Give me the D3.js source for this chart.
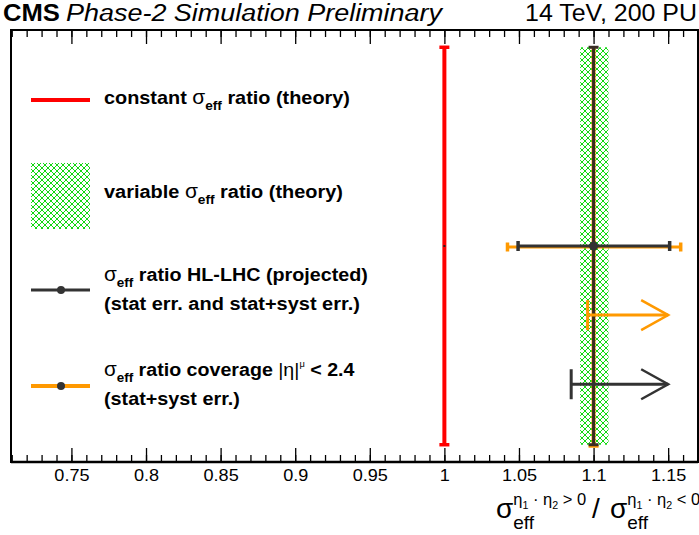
<!DOCTYPE html>
<html><head><meta charset="utf-8">
<script src="https://cdn.jsdelivr.net/npm/d3@7"></script>
<style>
body{margin:0;background:#fff;}
text{font-family:"Liberation Sans",Arial,Helvetica,sans-serif;fill:#000;}
</style>
</head><body>
<svg id="c" width="699" height="535"></svg>
<script>
// ---------------- data ----------------
const xTickValues = [0.75, 0.8, 0.85, 0.9, 0.95, 1.0, 1.05, 1.1, 1.15];
const xTickLabels = ["0.75", "0.8", "0.85", "0.9", "0.95", "1", "1.05", "1.1", "1.15"];
const xMinorTicks = d3.range(71, 118).map(d => d / 100);
const xDomain = [0.7095, 1.170];
const yDomain = [0, 1];
const constantRatio = [1.0];            // red, constant sigma_eff ratio (theory)
const theoryYRange = [0.04, 0.96];      // vertical extent of theory lines
const variableBand = [1.091, 1.110];    // green hatched band (variable ratio)
const projectedCentral = [1.1];         // HL-LHC projected central value
const projectedY = [0.5];
const statErr = [1.0494, 1.151];        // black horizontal error bar
const statSystErr = [1.0423, 1.1584];   // orange horizontal error bar
const limitValues = [1.096, 1.085];     // lower limits: orange, black
const limitYs = [0.34, 0.18];
const limitArrowEnd = [1.15, 1.15];
const limitColors = ["#ff9900", "#333333"];

const RED = "#ff0000", ORANGE = "#ff9900", BLACK = "#333333";

// ---------------- layout ----------------
const svg = d3.select("#c");
const L = 11, R = 698, T = 30, B = 462;
const x = d3.scaleLinear().domain(xDomain).range([L, R]);
const y = d3.scaleLinear().domain(yDomain).range([B, T]);

const defs = svg.append("defs");
const pat = defs.append("pattern").attr("id", "hatch").attr("patternUnits", "userSpaceOnUse")
  .attr("width", 6).attr("height", 6);
pat.append("rect").attr("width", 6).attr("height", 6).attr("fill", "#fff");
pat.append("path").attr("d", "M0,0L6,6M6,0L0,6M-1,5L1,7M5,-1L7,1")
  .attr("stroke", "#11d811").attr("stroke-width", 1).attr("fill", "none");

// horizontally scale a text element to a target width around an anchor x
function fitWidth(sel, target, ax) {
  const n = sel.node();
  const w = n.getBBox().width;
  const k = target / w;
  sel.attr("transform", `translate(${ax},0) scale(${k},1) translate(${-ax},0)`);
}

// ---------------- frame & axes ----------------
svg.append("rect").attr("x", L).attr("y", T).attr("width", R - L).attr("height", B - T)
  .attr("fill", "none").attr("stroke", "#000").attr("stroke-width", 2);

const gMinorB = svg.append("g").attr("transform", `translate(0,${B})`)
  .call(d3.axisBottom(x).tickValues(xMinorTicks).tickSize(-7).tickFormat(""));
const gMinorT = svg.append("g").attr("transform", `translate(0,${T})`)
  .call(d3.axisTop(x).tickValues(xMinorTicks).tickSize(-7).tickFormat(""));
const gMajB = svg.append("g").attr("transform", `translate(0,${B})`)
  .call(d3.axisBottom(x).tickValues(xTickValues).tickSize(-14).tickPadding(8)
    .tickFormat((d, i) => xTickLabels[i]));
const gMajT = svg.append("g").attr("transform", `translate(0,${T})`)
  .call(d3.axisTop(x).tickValues(xTickValues).tickSize(-14).tickFormat(""));
[gMinorB, gMinorT, gMajB, gMajT].forEach(g => {
  g.select(".domain").remove();
  g.selectAll(".tick line").attr("stroke", "#000").attr("stroke-width", 1.3);
});
gMajB.selectAll(".tick text").attr("font-size", 16).attr("font-family", "Liberation Sans, Arial, sans-serif")
  .attr("fill", "#000")
  .each(function () {
    const w = this.getComputedTextLength();
    d3.select(this).attr("textLength", w * 1.13).attr("lengthAdjust", "spacingAndGlyphs");
  });
svg.append("line").attr("x1", L).attr("x2", R).attr("y1", B).attr("y2", B)
  .attr("stroke", "#000").attr("stroke-width", 2.5);

// ---------------- marks ----------------
// variable theory band
svg.append("rect").attr("x", x(variableBand[0])).attr("y", y(theoryYRange[1]))
  .attr("width", x(variableBand[1]) - x(variableBand[0]))
  .attr("height", y(theoryYRange[0]) - y(theoryYRange[1]))
  .attr("fill", "url(#hatch)");

// constant theory (red)
constantRatio.forEach(v => {
  svg.append("line").attr("x1", x(v)).attr("x2", x(v)).attr("y1", y(theoryYRange[0])).attr("y2", y(theoryYRange[1]))
    .attr("stroke", RED).attr("stroke-width", 4);
  theoryYRange.forEach(yy => svg.append("line").attr("x1", x(v) - 5).attr("x2", x(v) + 5)
    .attr("y1", y(yy)).attr("y2", y(yy)).attr("stroke", RED).attr("stroke-width", 3.5));
  svg.append("rect").attr("x", x(v) - 1).attr("y", y(projectedY[0]) - 1).attr("width", 2).attr("height", 2).attr("fill", "#222");
});

// projected central value vertical line (orange under black)
projectedCentral.forEach(v => {
  svg.append("line").attr("x1", x(v)).attr("x2", x(v)).attr("y1", y(theoryYRange[0])).attr("y2", y(theoryYRange[1]))
    .attr("stroke", ORANGE).attr("stroke-width", 4);
  svg.append("line").attr("x1", x(v) - 5).attr("x2", x(v) + 5)
    .attr("y1", y(theoryYRange[0]) + 1.5).attr("y2", y(theoryYRange[0]) + 1.5).attr("stroke", ORANGE).attr("stroke-width", 3);
  svg.append("line").attr("x1", x(v)).attr("x2", x(v)).attr("y1", y(theoryYRange[0])).attr("y2", y(theoryYRange[1]))
    .attr("stroke", "#3a2c22").attr("stroke-width", 3);
  theoryYRange.forEach(yy => svg.append("line").attr("x1", x(v) - 5).attr("x2", x(v) + 5)
    .attr("y1", y(yy)).attr("y2", y(yy)).attr("stroke", "#3a2e26").attr("stroke-width", 3));
});

// horizontal error bars
function hbar(range, yy, color, w, capH, off) {
  const yp = y(yy) + off;
  svg.append("line").attr("x1", x(range[0])).attr("x2", x(range[1])).attr("y1", yp).attr("y2", yp)
    .attr("stroke", color).attr("stroke-width", w);
  range.forEach(v => svg.append("line").attr("x1", x(v)).attr("x2", x(v))
    .attr("y1", yp - capH / 2).attr("y2", yp + capH / 2).attr("stroke", color).attr("stroke-width", 3.5));
}
hbar(statSystErr, projectedY[0], ORANGE, 3, 9, 1);
hbar(statErr, projectedY[0], BLACK, 3, 10, 0);
svg.append("circle").attr("cx", x(projectedCentral[0])).attr("cy", y(projectedY[0])).attr("r", 4.5).attr("fill", BLACK);

// lower-limit arrows
limitValues.forEach((v, i) => {
  const yp = y(limitYs[i]), c = limitColors[i], xe = x(limitArrowEnd[i]);
  svg.append("line").attr("x1", x(v)).attr("x2", x(v)).attr("y1", yp - 15).attr("y2", yp + 15)
    .attr("stroke", c).attr("stroke-width", 3);
  svg.append("line").attr("x1", x(v)).attr("x2", xe).attr("y1", yp).attr("y2", yp)
    .attr("stroke", c).attr("stroke-width", 3);
  svg.append("path").attr("d", `M${xe - 27},${yp - 15}L${xe},${yp}L${xe - 27},${yp + 15}`)
    .attr("stroke", c).attr("stroke-width", 2.5).attr("fill", "none");
});

// ---------------- legend ----------------
const lg = svg.append("g");
lg.append("line").attr("x1", 31).attr("x2", 90).attr("y1", 100).attr("y2", 100).attr("stroke", RED).attr("stroke-width", 4);
lg.append("rect").attr("x", 31).attr("y", 163).attr("width", 59).attr("height", 66).attr("fill", "url(#hatch)");
lg.append("line").attr("x1", 31).attr("x2", 90).attr("y1", 290).attr("y2", 290).attr("stroke", BLACK).attr("stroke-width", 3);
lg.append("circle").attr("cx", 61).attr("cy", 290).attr("r", 4).attr("fill", BLACK);
lg.append("line").attr("x1", 31).attr("x2", 90).attr("y1", 386).attr("y2", 386).attr("stroke", ORANGE).attr("stroke-width", 4);
lg.append("circle").attr("cx", 61).attr("cy", 386).attr("r", 4).attr("fill", BLACK);

const FS = 19;
function legText(yb, parts, target) {
  const t = lg.append("text").attr("x", 104).attr("y", yb).attr("font-size", FS).attr("font-weight", "bold");
  parts.forEach(p => {
    const s = t.append("tspan").text(p.t);
    if (p.n) s.attr("font-weight", "normal");
    if (p.fs) s.attr("font-size", p.fs);
    if (p.dy) s.attr("dy", p.dy);
  });
  fitWidth(t, target, 104);
  return t;
}
const sig = [{ t: "σ", n: 1, fs: 20 }, { t: "eff", fs: 13, dy: 6 }];
legText(104, [{ t: "constant " }, ...sig, { t: " ratio (theory)", dy: -6 }], 246);
legText(198, [{ t: "variable " }, ...sig, { t: " ratio (theory)", dy: -6 }], 239);
legText(281, [...sig, { t: " ratio HL-LHC (projected)", dy: -6 }], 264);
legText(310, [{ t: "(stat err. and stat+syst err.)" }], 256);
legText(376, [...sig, { t: " ratio coverage ", dy: -6 }, { t: "|η|", n: 1 }, { t: "μ", n: 1, fs: 9, dy: -9 }, { t: " < 2.4", dy: 9 }], 251);
legText(405, [{ t: "(stat+syst err.)" }], 136);

// ---------------- header ----------------
const h1 = svg.append("text").attr("x", 3).attr("y", 21).attr("font-size", 23).attr("font-weight", "bold").text("CMS");
fitWidth(h1, 57, 3);
const h2 = svg.append("text").attr("x", 66).attr("y", 21).attr("font-size", 23).attr("font-style", "italic").text("Phase-2 Simulation Preliminary");
fitWidth(h2, 378, 66);
const h3 = svg.append("text").attr("x", 697).attr("y", 21).attr("font-size", 23).attr("text-anchor", "end").text("14 TeV, 200 PU");
fitWidth(h3, 172, 697);

// ---------------- axis title ----------------
const tg = svg.append("g");
function measure(str, fs) {
  const t = svg.append("text").attr("font-size", fs).text(str);
  const w = t.node().getComputedTextLength(); t.remove(); return w;
}
function sigmaBlock(x0, sign) {
  const base = 518;
  tg.append("text").attr("x", x0).attr("y", base).attr("font-size", 28).text("σ");
  const ws = measure("σ", 28);
  tg.append("text").attr("x", x0 + ws).attr("y", base + 11).attr("font-size", 19).text("eff");
  const sup = tg.append("text").attr("x", x0 + ws).attr("y", base - 13).attr("font-size", 17);
  sup.append("tspan").text("η");
  sup.append("tspan").attr("font-size", 11).attr("dy", 4).text("1");
  sup.append("tspan").attr("dy", -4).text(" · η");
  sup.append("tspan").attr("font-size", 11).attr("dy", 4).text("2");
  sup.append("tspan").attr("dy", -4).text(" " + sign + " 0");
  fitWidth(sup, 73, x0 + ws);
}
sigmaBlock(496, ">");
tg.append("text").attr("x", 592).attr("y", 518).attr("font-size", 28).text("/");
sigmaBlock(610, "<");
</script>
</body></html>
